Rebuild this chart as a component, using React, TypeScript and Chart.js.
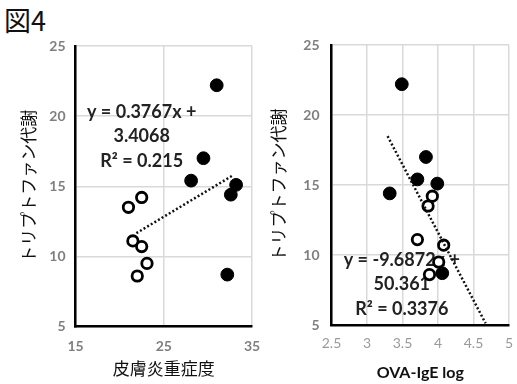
import React, { useEffect, useRef } from "react";
import { Chart, registerables } from "chart.js";

Chart.register(...registerables);

// ---- data ----
const tryptoTitle = "トリプトファン代謝";
const leftXTitle = "皮膚炎重症度";
const rightXTitle = "OVA-IgE log";

const filledY = [22.2, 17.0, 15.4, 15.1, 14.4, 8.7];
const openY = [14.2, 13.5, 11.1, 10.7, 9.5, 8.6];

const leftFilledX = [31.0, 29.5, 28.1, 33.2, 32.6, 32.2];
const leftOpenX = [22.5, 21.0, 21.5, 22.5, 23.1, 22.0];
const rightFilledX = [3.49, 3.83, 3.71, 3.99, 3.32, 4.06];
const rightOpenX = [3.92, 3.86, 3.71, 4.08, 4.01, 3.88];

const leftSlope = 0.3767;
const leftIntercept = 3.4068;
const leftTrendX = [21.9, 32.8];
const rightSlope = -9.6872;
const rightIntercept = 50.361;
const rightTrendX = [3.29, 4.67];

const leftLabels = ["y = 0.3767x +", "3.4068", "R² = 0.215"];
const rightLabels = ["y = -9.6872x +", "50.361", "R² = 0.3376"];

const leftXTicks = { min: 15, max: 35, step: 10 };
const rightXTicks = { min: 2.5, max: 5, step: 0.5 };
const yTicks = { min: 5, max: 25, step: 5 };

const FONT = "Lato, 'Noto Sans CJK JP', sans-serif";
const JFONT = "'Noto Sans CJK JP', Lato, sans-serif";

type Cfg = {
  filledX: number[];
  openX: number[];
  slope: number;
  intercept: number;
  trendX: number[];
  labels: string[];
  labelAnchor: { x: number; y: number };
  xTitle: string;
  xTicks: { min: number; max: number; step: number };
  yWidth: number;
  xHeight: number;
  padRight: number;
  top: number;
  yTitlePad: number;
  yTickPad: number;
  xTickPad: number;
  xTitlePad: number;
  xTitleFont: { size: number; family: string; weight: any };
  xTickFont: any;
  xTickColor: string;
};

function makeChart(canvas: HTMLCanvasElement, c: Cfg) {
  const textPlugin = {
    id: "eqText",
    beforeDatasetsDraw(chart: any) {
      const ctx = chart.ctx;
      const xs = chart.scales.x;
      const ys = chart.scales.y;
      const cx = xs.getPixelForValue(c.labelAnchor.x);
      const cy = ys.getPixelForValue(c.labelAnchor.y);
      ctx.save();
      ctx.fillStyle = "#222";
      ctx.font = "bold 18px " + FONT;
      ctx.textAlign = "center";
      ctx.textBaseline = "middle";
      c.labels.forEach((t, i) => ctx.fillText(t, cx, cy + i * 24.5));
      ctx.restore();
    },
  };
  return new Chart(canvas, {
    type: "scatter",
    data: {
      datasets: [
        {
          type: "line",
          data: c.trendX.map((x) => ({ x, y: c.slope * x + c.intercept })),
          borderColor: "#111",
          borderWidth: 2.5,
          borderDash: [2, 2.2],
          pointRadius: 0,
          fill: false,
        } as any,
        {
          data: c.filledX.map((x, i) => ({ x, y: filledY[i] })),
          backgroundColor: "#000",
          borderColor: "#000",
          borderWidth: 1,
          pointRadius: 6.4,
        },
        {
          data: c.openX.map((x, i) => ({ x, y: openY[i] })),
          backgroundColor: "#fff",
          borderColor: "#000",
          borderWidth: 2.8,
          pointRadius: 5.2,
        },
      ],
    },
    options: {
      animation: false,
      responsive: false,
      maintainAspectRatio: false,
      layout: { padding: { left: 0, top: c.top, right: c.padRight, bottom: 0 } },
      plugins: { legend: { display: false }, tooltip: { enabled: false } },
      scales: {
        x: {
          type: "linear",
          min: c.xTicks.min,
          max: c.xTicks.max,
          afterBuildTicks: (s: any) => {
            const t = [];
            for (let v = c.xTicks.min; v <= c.xTicks.max + 1e-9; v += c.xTicks.step) t.push({ value: +v.toFixed(2) });
            s.ticks = t;
          },
          afterFit: (s: any) => {
            s.height = c.xHeight;
            s.paddingLeft = 0;
            s.paddingRight = 0;
          },
          grid: { color: "#d9d9d9", lineWidth: 1.5, drawTicks: false },
          border: { color: "#000", width: 2.5 },
          ticks: {
            padding: c.xTickPad,
            color: c.xTickColor,
            font: c.xTickFont,
            maxRotation: 0,
            autoSkip: false,
            callback: (v: any) => String(v),
          },
          title: {
            display: true,
            text: c.xTitle,
            color: "#111",
            font: c.xTitleFont,
            padding: { top: 0, bottom: c.xTitlePad },
          },
        },
        y: {
          type: "linear",
          min: yTicks.min,
          max: yTicks.max,
          ticks: {
            stepSize: yTicks.step,
            padding: c.yTickPad,
            color: "#7f7f7f",
            font: { size: 14, weight: "bold", family: FONT },
          },
          afterFit: (s: any) => {
            s.width = c.yWidth;
            s.paddingTop = 0;
            s.paddingBottom = 0;
          },
          grid: { color: "#d9d9d9", lineWidth: 1.5, drawTicks: false },
          border: { color: "#000", width: 2.5 },
          title: {
            display: true,
            text: tryptoTitle,
            color: "#111",
            font: { size: 17, family: JFONT, weight: "normal" },
            padding: { top: c.yTitlePad, bottom: 0 },
          },
        },
      },
    },
    plugins: [textPlugin],
  } as any);
}

function Panel({ cfg, left, width }: { cfg: Cfg; left: number; width: number }) {
  const ref = useRef<HTMLCanvasElement>(null);
  useEffect(() => {
    const ch = makeChart(ref.current!, cfg);
    return () => ch.destroy();
  }, []);
  return (
    <canvas
      ref={ref}
      width={width}
      height={384}
      style={{ position: "absolute", left, top: 0, width, height: 384 }}
    />
  );
}

const leftCfg: Cfg = {
  filledX: leftFilledX,
  openX: leftOpenX,
  slope: leftSlope,
  intercept: leftIntercept,
  trendX: leftTrendX,
  labels: leftLabels,
  labelAnchor: { x: 22.5, y: 20.3 },
  xTitle: leftXTitle,
  xTicks: leftXTicks,
  yWidth: 75.5,
  xHeight: 57.5,
  padRight: 18,
  top: 46,
  yTitlePad: 18,
  yTickPad: 10,
  xTickPad: 12,
  xTitlePad: 5,
  xTitleFont: { size: 17, family: JFONT, weight: "normal" },
  xTickFont: { size: 14, weight: "bold", family: FONT },
  xTickColor: "#7f7f7f",
};

const rightCfg: Cfg = {
  filledX: rightFilledX,
  openX: rightOpenX,
  slope: rightSlope,
  intercept: rightIntercept,
  trendX: rightTrendX,
  labels: rightLabels,
  labelAnchor: { x: 3.49, y: 9.64 },
  xTitle: rightXTitle,
  xTicks: rightXTicks,
  yWidth: 73.5,
  xHeight: 59,
  padRight: 6,
  top: 45,
  yTitlePad: 10,
  yTickPad: 12,
  xTickPad: 10,
  xTitlePad: 2,
  xTitleFont: { size: 16, family: FONT, weight: "bold" },
  xTickFont: { size: 14, weight: "normal", family: FONT },
  xTickColor: "#9a9a9a",
};

export default function App() {
  return (
    <div style={{ position: "fixed", left: 0, top: 0, width: 517, height: 384, background: "#fff", overflow: "hidden" }}>
      <div
        style={{
          position: "absolute",
          left: 4,
          top: 2,
          fontFamily: JFONT,
          fontSize: 27,
          lineHeight: "36px",
          color: "#111",
        }}
      >
        図4
      </div>
      <Panel cfg={leftCfg} left={0} width={270} />
      <Panel cfg={rightCfg} left={258} width={259} />
    </div>
  );
}
